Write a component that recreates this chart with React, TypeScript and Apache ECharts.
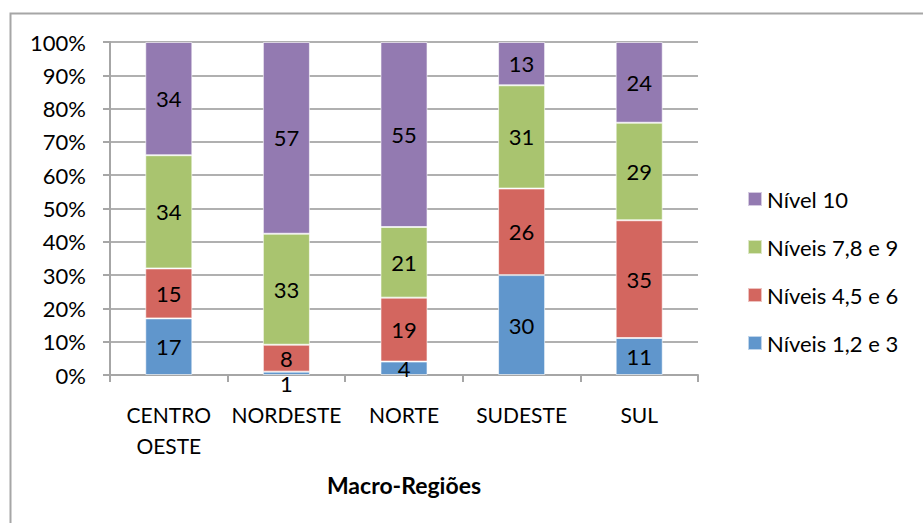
import React, { useEffect, useRef } from "react";
import * as echarts from "echarts";

const categories = ["CENTRO\nOESTE", "NORDESTE", "NORTE", "SUDESTE", "SUL"];
const niveis123 = [17, 1, 4, 30, 11];
const niveis456 = [15, 8, 19, 26, 35];
const niveis789 = [34, 33, 21, 31, 29];
const nivel10 = [34, 57, 55, 13, 24];
const seriesNames = ["Níveis 1,2 e 3", "Níveis 4,5 e 6", "Níveis 7,8 e 9", "Nível 10"];
const colors = ["#6096CC", "#D3665F", "#A9C46F", "#937AB1"];

const FONT = "Lato";

export default function App() {
  const ref = useRef<HTMLDivElement>(null);
  useEffect(() => {
    if (!ref.current) return;
    const chart = echarts.init(ref.current, undefined, { renderer: "svg" });
    const all = [niveis123, niveis456, niveis789, nivel10];
    const totals = categories.map((_, i) => all.reduce((s, a) => s + a[i], 0));
    const series = all.map((arr, k) => ({
      name: seriesNames[k],
      type: "bar",
      stack: "total",
      barWidth: "40%",
      itemStyle: { color: colors[k], borderColor: "rgba(255,255,255,0.6)", borderWidth: 1 },
      label: {
        show: true,
        position: "inside",
        color: "#000",
        fontFamily: FONT,
        fontSize: 22,
        formatter: (p: any) => String(arr[p.dataIndex]),
      },
      data: arr.map((v, i) => {
        const pct = (v / totals[i]) * 100;
        return pct < 3 ? { value: pct, label: { offset: [0, 10] } } : pct;
      }),
    }));
    chart.setOption({
      animation: false,
      textStyle: { fontFamily: FONT },
      graphic: [
        {
          type: "rect",
          shape: { x: 10.5, y: 13.5, width: 940, height: 540 },
          style: { fill: "none", stroke: "#a6a6a6", lineWidth: 2 },
          silent: true,
        },
      ],
      grid: { left: 110, top: 42, right: 225, bottom: 148 },
      legend: {
        orient: "vertical",
        left: 742,
        top: 183,
        itemWidth: 14,
        itemHeight: 14,
        itemGap: 26,
        icon: "rect",
        data: ["Nível 10", "Níveis 7,8 e 9", "Níveis 4,5 e 6", "Níveis 1,2 e 3"],
        textStyle: { color: "#000", fontSize: 22, fontFamily: FONT },
      },
      xAxis: {
        type: "category",
        data: categories,
        name: "Macro-Regiões",
        nameLocation: "middle",
        nameGap: 98,
        nameTextStyle: { color: "#000", fontSize: 23, fontWeight: "bold", fontFamily: FONT },
        axisLine: { show: true, lineStyle: { color: "#a6a6a6", width: 2 } },
        axisTick: { show: true, length: 7, lineStyle: { color: "#a6a6a6", width: 2 } },
        axisLabel: {
          interval: 0,
          color: "#000",
          fontSize: 21,
          lineHeight: 31,
          margin: 24,
          fontFamily: FONT,
        },
      },
      yAxis: {
        type: "value",
        min: 0,
        max: 100,
        interval: 10,
        axisLine: { show: true, lineStyle: { color: "#a6a6a6", width: 2 } },
        axisTick: { show: true, length: 7, lineStyle: { color: "#a6a6a6", width: 2 } },
        splitLine: { show: true, lineStyle: { color: "#b0b0b0", width: 2 } },
        axisLabel: { color: "#000", fontSize: 22, margin: 24, formatter: "{value}%", fontFamily: FONT },
      },
      series,
    });
    return () => chart.dispose();
  }, []);
  return (
    <div
      ref={ref}
      style={{ position: "fixed", left: 0, top: 0, width: 923, height: 523, background: "#fff" }}
    />
  );
}
